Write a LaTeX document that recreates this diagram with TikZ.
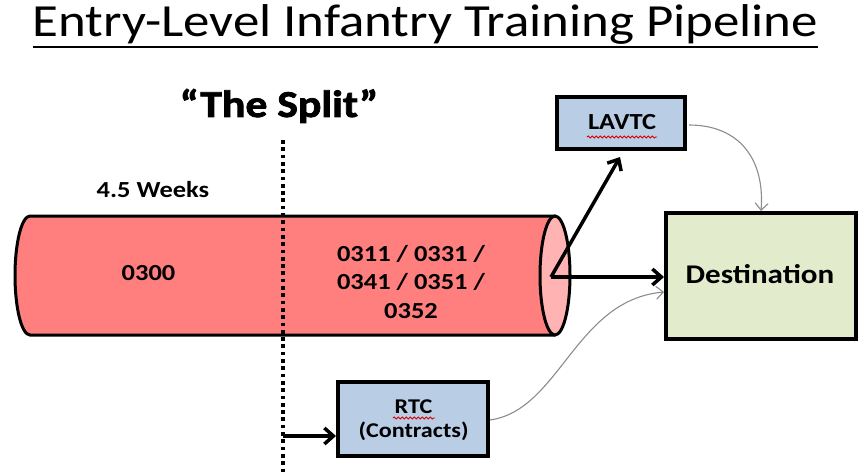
\documentclass[tikz,border=0pt]{standalone}
\usepackage{fontspec}
\setmainfont{Carlito}[FakeStretch=1.15]
\usetikzlibrary{arrows.meta,decorations.pathmorphing}
\definecolor{pipe}{HTML}{FF7F7F}
\definecolor{pipeend}{HTML}{FFB3B3}
\definecolor{boxblue}{HTML}{B9CDE5}
\definecolor{boxgreen}{HTML}{E3EBCD}
\definecolor{thin}{HTML}{8C8C8C}
\tikzset{
  bigarrow/.style={line width=3.5pt,-{Straight Barb[length=9pt,width=16pt,line width=3.5pt]}},
  thinarrow/.style={line width=1.1pt,draw=thin,-{Straight Barb[length=7pt,width=13pt,line width=1.1pt]}},
  box/.style={draw=black,line width=4pt,inner sep=0pt},
  lbl/.style={font=\bfseries\fontsize{23}{28.5}\selectfont,align=center,inner sep=0pt,anchor=base},
  squig/.style={draw=red!85!black,line width=0.9pt,decorate,decoration={snake,amplitude=1pt,segment length=4pt}}
}
\begin{document}
\begin{tikzpicture}[x=1pt,y=-1pt]
\useasboundingbox (0,0) rectangle (867,476);
% title
\node[inner sep=0pt,anchor=base,font=\fontsize{46}{50}\selectfont] (title) at (425.5,37) {Entry-Level Infantry Training Pipeline};
\draw[line width=2.5pt] (title.south west) ++(0,2) coordinate (u1) -- (u1 -| title.south east);
% the split
\node[inner sep=0pt,anchor=base,font=\bfseries\fontsize{38}{42}\selectfont\addfontfeature{FakeBold=2}] (split) at (279,117) {“The Split”};
\node[lbl] (weeks) at (153,197) {4.5 Weeks};
% cylinder
\fill[pipe] (30,216) -- (555,216) -- (555,335) -- (30,335) arc[start angle=270,end angle=90,x radius=15pt,y radius=59.5pt] -- cycle;
\draw[line width=3pt] (555,216) -- (30,216) arc[start angle=90,end angle=270,x radius=15pt,y radius=59.5pt] -- (555,335);
\draw[line width=3pt,fill=pipeend] (555,275.5) ellipse[x radius=15pt,y radius=59.5pt];
\coordinate (pend) at (551,277);
\node[lbl] (a) at (148.5,280) {0300};
\node[lbl] (b) at (411,318) {0311 / 0331 /\\0341 / 0351 /\\0352};
% dotted split line
\coordinate (d1) at (283,140);
\coordinate (d2) at (283,476);
\draw[line width=4pt,dash pattern=on 3.7pt off 3.6pt] (d1) -- (d2);
% boxes
\node[box,fill=boxblue,minimum width=128pt,minimum height=52pt] (lav) at (621,123) {};
\node[box,fill=boxgreen,minimum width=190pt,minimum height=126pt] (dest) at (761,276) {};
\node[box,fill=boxblue,minimum width=150pt,minimum height=74pt] (rtc) at (413,419) {};
\node[inner sep=0pt,anchor=base,font=\bfseries\fontsize{23}{26}\selectfont] (lavt) at (622,130) {LAVTC};
\node[inner sep=0pt,anchor=base,font=\bfseries\fontsize{27}{30}\selectfont] (destt) at (760,283) {Destination};
\node[inner sep=0pt,anchor=base,font=\bfseries\fontsize{21}{24}\selectfont,align=center] (rtct) at (413.5,437) {RTC\\(Contracts)};
% spell-check marks
\draw[squig] (587,137) -- (657,137);
\draw[squig] (393,418) -- (435,418);
% arrows
\draw[bigarrow] (pend) -- (620,157);
\draw[bigarrow] (pend) -- (dest.west |- pend);
\coordinate (s1) at (283,436);
\draw[bigarrow] (s1) -- (rtc.west |- s1);
\draw[thinarrow] (lav.east) ++(2,2) .. controls (740,125) and (765,160) .. (dest.north);
\draw[thinarrow] (rtc.east) ++(0,1) .. controls (560,410) and (575,300) .. (dest.west |- 0,292);
\end{tikzpicture}
\end{document}
